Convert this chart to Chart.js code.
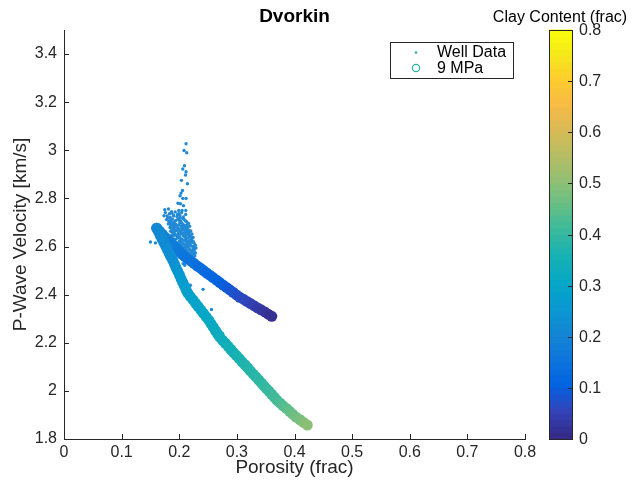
<!DOCTYPE html>
<html>
<head>
<meta charset="utf-8">
<title>Dvorkin</title>
<script src="https://cdn.jsdelivr.net/npm/chart.js@4.4.1/dist/chart.umd.min.js"></script>
<style>
  html, body { margin: 0; padding: 0; background: #fff; }
  #chart { display: block; }
</style>
</head>
<body>
<canvas id="chart" width="632" height="487"></canvas>
<script>
// Tick values for the two axes and the colour bar
const xTicks = [0, 0.1, 0.2, 0.3, 0.4, 0.5, 0.6, 0.7, 0.8];
const yTicks = [1.8, 2.0, 2.2, 2.4, 2.6, 2.8, 3.0, 3.2, 3.4];
const clayTicks = [0, 0.1, 0.2, 0.3, 0.4, 0.5, 0.6, 0.7, 0.8];

// Well log samples: [porosity, Vp km/s]
const wellPoints = [
  [.2118, 3.027], [.2083, 2.999], [.2130, 2.990], [.2090, 2.936], [.2061, 2.922],
  [.2118, 2.911], [.2108, 2.897], [.2038, 2.875], [.2142, 2.861], [.2056, 2.833],
  [.2031, 2.822], [.2014, 2.811], [.2061, 2.800], [.2118, 2.800], [.1979, 2.780],
  [.2021, 2.778], [.2073, 2.770], [.1748, 2.753], [.1813, 2.756], [.1991, 2.750],
  [.2049, 2.750], [.2113, 2.750], [.1865, 2.745], [.1736, 2.728],
  [.176, 2.741], [.187, 2.739], [.193, 2.744], [.199, 2.736], [.204, 2.741],
  [.179, 2.727], [.184, 2.722], [.190, 2.731], [.196, 2.725], [.201, 2.729], [.207, 2.723], [.211, 2.733],
  [.178, 2.712], [.182, 2.705], [.188, 2.714], [.194, 2.708], [.199, 2.716], [.203, 2.704], [.209, 2.711],
  [.213, 2.702], [.186, 2.701], [.206, 2.717],
  [.181, 2.694], [.185, 2.689], [.191, 2.697], [.196, 2.686], [.201, 2.699], [.207, 2.691], [.212, 2.688],
  [.216, 2.696], [.189, 2.685], [.204, 2.687],
  [.184, 2.679], [.188, 2.672], [.193, 2.683], [.198, 2.675], [.203, 2.681], [.209, 2.671], [.214, 2.678],
  [.218, 2.684], [.196, 2.668], [.211, 2.682],
  [.185, 2.663], [.190, 2.657], [.195, 2.666], [.200, 2.659], [.205, 2.668], [.211, 2.661], [.216, 2.656],
  [.220, 2.665], [.193, 2.669], [.208, 2.655],
  [.187, 2.648], [.192, 2.653], [.197, 2.642], [.202, 2.651], [.207, 2.644], [.213, 2.649], [.218, 2.641],
  [.222, 2.652], [.199, 2.655], [.210, 2.640],
  [.188, 2.633], [.193, 2.628], [.198, 2.637], [.204, 2.630], [.209, 2.626], [.215, 2.635], [.220, 2.629],
  [.224, 2.638], [.201, 2.624], [.212, 2.632],
  [.190, 2.619], [.195, 2.612], [.200, 2.621], [.206, 2.615], [.211, 2.623], [.217, 2.611], [.222, 2.618],
  [.226, 2.614], [.203, 2.610], [.214, 2.620],
  [.193, 2.604], [.198, 2.598], [.204, 2.606], [.209, 2.597], [.214, 2.603], [.219, 2.608], [.224, 2.600],
  [.228, 2.605], [.212, 2.596],
  [.196, 2.589], [.201, 2.583], [.206, 2.592], [.212, 2.585], [.217, 2.590], [.222, 2.581], [.226, 2.587], [.229, 2.594],
  [.200, 2.575], [.205, 2.569], [.210, 2.578], [.215, 2.571], [.220, 2.576], [.225, 2.567], [.228, 2.573],
  [.204, 2.559], [.209, 2.554], [.214, 2.562], [.219, 2.557], [.224, 2.552], [.227, 2.561],
  [.183, 2.736], [.190, 2.727], [.197, 2.733], [.202, 2.719], [.180, 2.718], [.185, 2.709], [.191, 2.703],
  [.197, 2.712], [.201, 2.707], [.211, 2.706], [.183, 2.698], [.188, 2.692], [.194, 2.693], [.199, 2.690],
  [.205, 2.696], [.209, 2.684], [.214, 2.691], [.186, 2.676], [.191, 2.679], [.196, 2.681], [.201, 2.670],
  [.206, 2.676], [.212, 2.673], [.216, 2.669], [.188, 2.661], [.192, 2.664], [.198, 2.652], [.203, 2.662],
  [.209, 2.658], [.214, 2.664], [.218, 2.659], [.190, 2.645], [.195, 2.647], [.200, 2.640], [.205, 2.654],
  [.211, 2.646], [.216, 2.650], [.220, 2.645], [.191, 2.630], [.196, 2.634], [.201, 2.638], [.206, 2.627],
  [.212, 2.638], [.217, 2.624], [.222, 2.633], [.194, 2.617], [.198, 2.614], [.203, 2.618], [.208, 2.611],
  [.213, 2.613], [.219, 2.620], [.224, 2.622], [.196, 2.601], [.201, 2.607], [.206, 2.599], [.211, 2.607],
  [.216, 2.597], [.221, 2.602], [.226, 2.597], [.199, 2.586], [.204, 2.591], [.209, 2.583], [.214, 2.580],
  [.219, 2.586], [.224, 2.591], [.203, 2.572], [.207, 2.575], [.212, 2.567], [.217, 2.565], [.222, 2.570],
  [.226, 2.578], [.207, 2.563], [.211, 2.558], [.216, 2.553], [.221, 2.561],
  [.1500, 2.619], [.1587, 2.615], [.2066, 2.529], [.2095, 2.522], [.2286, 2.534],
  [.2194, 2.439], [.2413, 2.422], [.2559, 2.338], [.2686, 2.256], [.2703, 2.245], [.2750, 2.239]
];

// Dvorkin model at 9 MPa, stiffer (upper) trend
const upperPorosity = [
  .1609, .1658, .1707, .1753, .1802, .1851, .1899, .1948, .1995, .2043,
  .2097, .2151, .2205, .2259, .2314, .2368, .2422, .2476, .2530, .2587,
  .2646, .2703, .2760, .2819, .2877, .2934, .2993, .3050, .3113, .3174,
  .3236, .3297, .3359, .3420, .3483, .3543, .3606
];
const upperVelocity = [
  2.676, 2.664, 2.651, 2.639, 2.627, 2.616, 2.604, 2.592, 2.580, 2.568,
  2.558, 2.548, 2.539, 2.529, 2.519, 2.510, 2.500, 2.490, 2.481, 2.471,
  2.460, 2.450, 2.440, 2.430, 2.420, 2.410, 2.399, 2.389, 2.381, 2.372,
  2.363, 2.354, 2.345, 2.337, 2.328, 2.319, 2.310
];
const upperClay = [
  .210, .204, .199, .193, .188, .182, .177, .171, .166, .160,
  .156, .151, .147, .142, .138, .133, .129, .124, .120, .114,
  .108, .102, .096, .089, .083, .077, .071, .065, .059, .053,
  .047, .041, .034, .028, .022, .016, .010
];

// Dvorkin model at 9 MPa, softer (lower) trend
const lowerPorosity = [
  .1609, .1641, .1672, .1701, .1733, .1764, .1795, .1825, .1856, .1887,
  .1917, .1944, .1974, .2003, .2031, .2061, .2090, .2118, .2148, .2193,
  .2240, .2285, .2330, .2375, .2422, .2467, .2512, .2550, .2588, .2627,
  .2665, .2703, .2752, .2800, .2849, .2896, .2944, .2993, .3042, .3090,
  .3139, .3188, .3234, .3283, .3332, .3380, .3425, .3469, .3514, .3559,
  .3604, .3648, .3693, .3748, .3802, .3859, .3915, .3967, .4024, .4095,
  .4158, .4222
];
const lowerVelocity = [
  2.676, 2.661, 2.646, 2.631, 2.617, 2.602, 2.587, 2.572, 2.558, 2.543,
  2.527, 2.512, 2.497, 2.482, 2.467, 2.451, 2.436, 2.421, 2.406, 2.392,
  2.378, 2.364, 2.350, 2.336, 2.322, 2.308, 2.294, 2.280, 2.266, 2.251,
  2.237, 2.223, 2.210, 2.198, 2.185, 2.172, 2.159, 2.147, 2.134, 2.121,
  2.109, 2.096, 2.083, 2.070, 2.058, 2.045, 2.033, 2.021, 2.009, 1.998,
  1.986, 1.974, 1.962, 1.950, 1.938, 1.927, 1.915, 1.903, 1.891, 1.880,
  1.869, 1.858
];
const lowerClay = [
  .210, .212, .214, .217, .219, .221, .223, .226, .228, .230,
  .236, .241, .247, .252, .258, .263, .269, .274, .280, .284,
  .288, .291, .295, .299, .303, .306, .310, .314, .318, .322,
  .326, .330, .334, .339, .343, .347, .351, .356, .360, .364,
  .369, .373, .377, .381, .386, .390, .394, .399, .403, .407,
  .411, .416, .420, .428, .437, .445, .453, .462, .470, .480,
  .490, .500
];

const clayMax = 0.8;
const axisColor = '#262626';
const fontFamily = "'Liberation Sans', Arial, sans-serif";

// parula colormap stops: [position, r, g, b]
const parulaStops = [
  [0 / 63, 0.2081, 0.1663, 0.5292], [4 / 63, 0.1959, 0.2645, 0.7279],
  [8 / 63, 0.0117, 0.3875, 0.8820], [12 / 63, 0.0498, 0.4586, 0.8641],
  [16 / 63, 0.0793, 0.5200, 0.8312], [20 / 63, 0.0343, 0.5966, 0.8199],
  [24 / 63, 0.0228, 0.6535, 0.7768], [28 / 63, 0.0843, 0.6928, 0.7062],
  [32 / 63, 0.2178, 0.7250, 0.6193], [36 / 63, 0.3953, 0.7459, 0.5244],
  [40 / 63, 0.5709, 0.7485, 0.4494], [44 / 63, 0.7184, 0.7411, 0.3905],
  [48 / 63, 0.8507, 0.7299, 0.3360], [52 / 63, 0.9739, 0.7314, 0.2666],
  [56 / 63, 0.9880, 0.8066, 0.1794], [60 / 63, 0.9598, 0.9218, 0.0948],
  [63 / 63, 0.9763, 0.9831, 0.0538]
];

function parula(t) {
  t = Math.min(1, Math.max(0, t));
  let i = 0;
  while (i < parulaStops.length - 2 && t > parulaStops[i + 1][0]) i++;
  const a = parulaStops[i], b = parulaStops[i + 1];
  const f = (t - a[0]) / (b[0] - a[0]);
  const c = [1, 2, 3].map(k => Math.round(255 * (a[k] + (b[k] - a[k]) * f)));
  return `rgb(${c[0]},${c[1]},${c[2]})`;
}

const clayColor = c => parula(c / clayMax);

function pairs(xs, ys) {
  return xs.map((x, i) => ({ x: x, y: ys[i] }));
}

// Title, legend box, inward tick marks and the clay colour bar
const decorations = {
  id: 'decorations',
  afterDraw(chart) {
    const ctx = chart.ctx;
    const area = chart.chartArea;
    const xs = chart.scales.x, ys = chart.scales.y;
    ctx.save();

    // inward ticks
    ctx.strokeStyle = axisColor;
    ctx.lineWidth = 1;
    ctx.beginPath();
    xTicks.forEach(v => {
      const px = Math.round(xs.getPixelForValue(v)) + 0.5;
      ctx.moveTo(px, area.bottom);
      ctx.lineTo(px, area.bottom - 5);
    });
    yTicks.forEach(v => {
      const py = Math.round(ys.getPixelForValue(v)) + 0.5;
      ctx.moveTo(area.left, py);
      ctx.lineTo(area.left + 5, py);
    });
    ctx.stroke();

    // title
    ctx.fillStyle = '#000';
    ctx.font = `bold 19px ${fontFamily}`;
    ctx.textAlign = 'center';
    ctx.textBaseline = 'alphabetic';
    ctx.fillText('Dvorkin', (area.left + area.right) / 2, 22);

    // legend
    const lx = 390.5, ly = 42.5, lw = 123, lh = 36;
    ctx.fillStyle = '#fff';
    ctx.fillRect(lx, ly, lw, lh);
    ctx.strokeStyle = axisColor;
    ctx.strokeRect(lx, ly, lw, lh);
    ctx.fillStyle = '#2bb39c';
    ctx.beginPath();
    ctx.arc(416, 52.5, 1.3, 0, Math.PI * 2);
    ctx.fill();
    ctx.strokeStyle = '#2bb39c';
    ctx.lineWidth = 1.2;
    ctx.beginPath();
    ctx.arc(416, 68, 3.6, 0, Math.PI * 2);
    ctx.stroke();
    ctx.fillStyle = '#000';
    ctx.font = `16px ${fontFamily}`;
    ctx.textAlign = 'left';
    ctx.textBaseline = 'middle';
    ctx.fillText('Well Data', 437, 53);
    ctx.fillText('9 MPa', 437, 68.5);

    // colour bar
    const cbL = 549, cbR = 572, cbT = area.top, cbB = area.bottom;
    const bands = 64;
    const bh = (cbB - cbT) / bands;
    for (let k = 0; k < bands; k++) {
      ctx.fillStyle = parula(k / (bands - 1));
      ctx.fillRect(cbL, cbB - (k + 1) * bh - 0.5, cbR - cbL, bh + 1);
    }
    ctx.strokeStyle = axisColor;
    ctx.lineWidth = 1;
    ctx.strokeRect(cbL + 0.5, cbT + 0.5, cbR - cbL, cbB - cbT);
    ctx.beginPath();
    ctx.font = `16px ${fontFamily}`;
    ctx.fillStyle = axisColor;
    ctx.textAlign = 'left';
    ctx.textBaseline = 'middle';
    clayTicks.forEach(v => {
      const py = Math.round(cbB - (v / clayMax) * (cbB - cbT)) + 0.5;
      ctx.moveTo(cbR, py);
      ctx.lineTo(cbR - 4, py);
      ctx.fillText(String(v), cbR + 7, py);
    });
    ctx.stroke();

    ctx.fillStyle = '#000';
    ctx.font = `16px ${fontFamily}`;
    ctx.textAlign = 'center';
    ctx.textBaseline = 'alphabetic';
    ctx.fillText('Clay Content (frac)', 560, 22);

    ctx.restore();
  }
};

Chart.defaults.font.family = fontFamily;
Chart.defaults.color = axisColor;

const tickLabel = v => String(+(+v).toFixed(2));

new Chart(document.getElementById('chart'), {
  type: 'scatter',
  data: {
    datasets: [
      {
        label: '9 MPa',
        data: pairs(lowerPorosity, lowerVelocity),
        pointBackgroundColor: lowerClay.map(clayColor),
        pointBorderWidth: 0,
        pointRadius: 5.5,
        order: 1
      },
      {
        label: '9 MPa',
        data: pairs(upperPorosity, upperVelocity),
        pointBackgroundColor: upperClay.map(clayColor),
        pointBorderWidth: 0,
        pointRadius: 5.5,
        order: 2
      },
      {
        label: 'Well Data',
        data: wellPoints.map(p => ({ x: p[0], y: p[1] })),
        pointBackgroundColor: '#2289d6',
        pointBorderWidth: 0,
        pointRadius: 1.7,
        order: 3
      }
    ]
  },
  options: {
    responsive: false,
    animation: false,
    devicePixelRatio: 1,
    layout: { padding: { top: 30, right: 107, left: 0, bottom: 0 } },
    plugins: {
      legend: { display: false },
      tooltip: { enabled: false }
    },
    scales: {
      x: {
        type: 'linear',
        min: 0,
        max: 0.8,
        grid: { display: false, drawTicks: false },
        border: { display: true, color: axisColor, width: 1 },
        ticks: { font: { size: 16 }, color: axisColor, padding: 4, callback: tickLabel },
        afterBuildTicks: s => { s.ticks = xTicks.map(v => ({ value: v })); },
        afterFit: s => { s.height = 48; },
        title: { display: true, text: 'Porosity (frac)', font: { size: 19 }, color: axisColor, padding: { top: 0, bottom: 8 } }
      },
      y: {
        type: 'linear',
        min: 1.8,
        max: 3.5,
        grid: { display: false, drawTicks: false },
        border: { display: true, color: axisColor, width: 1 },
        ticks: { font: { size: 16 }, color: axisColor, padding: 7, callback: tickLabel },
        afterBuildTicks: s => { s.ticks = yTicks.map(v => ({ value: v })); },
        afterFit: s => { s.width = 64; },
        title: { display: true, text: 'P-Wave Velocity [km/s]', font: { size: 19 }, color: axisColor, padding: { top: 9, bottom: 0 } }
      }
    }
  },
  plugins: [decorations]
});
</script>
</body>
</html>
